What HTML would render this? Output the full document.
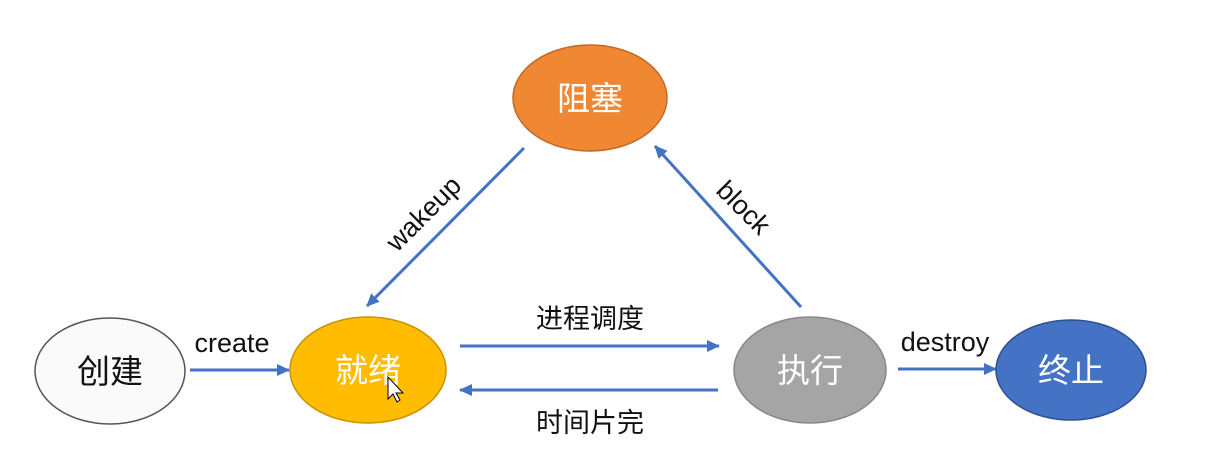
<!DOCTYPE html>
<html><head><meta charset="utf-8"><style>
html,body{margin:0;padding:0;background:#fff;}
svg{display:block;}
text{font-family:"Liberation Sans","Noto Sans CJK SC",sans-serif;}
</style></head><body>
<svg width="1225" height="476" viewBox="0 0 1225 476" xmlns="http://www.w3.org/2000/svg">
<defs>
<marker id="a" markerWidth="14" markerHeight="12" refX="12" refY="6" orient="auto" markerUnits="userSpaceOnUse" viewBox="0 0 14 12">
<path d="M0,0 L13,6 L0,12 z" fill="#4472C4"/></marker>
</defs>
<g stroke="#4472C4" stroke-width="3" fill="none" marker-end="url(#a)">
<line x1="190" y1="370" x2="289" y2="370"/>
<line x1="460" y1="346" x2="719" y2="346"/>
<line x1="718" y1="390" x2="460" y2="390"/>
<line x1="898" y1="369" x2="996" y2="369"/>
<line x1="524" y1="148" x2="367" y2="306"/>
<line x1="801" y1="307" x2="655" y2="146"/>
</g>
<ellipse cx="590" cy="98" rx="77" ry="53" fill="#F08733" stroke="#C0692A" stroke-width="1.5"/>
<ellipse cx="110" cy="371" rx="75" ry="53" fill="#fafafa" stroke="#555" stroke-width="1.5"/>
<ellipse cx="368" cy="370" rx="78" ry="53" fill="#FFBC00" stroke="#C79300" stroke-width="1.5"/>
<ellipse cx="810" cy="370" rx="76" ry="53" fill="#A5A5A5" stroke="#888" stroke-width="1.5"/>
<ellipse cx="1071" cy="370" rx="75" ry="50" fill="#4472C4" stroke="#2F528F" stroke-width="1.5"/>
<g font-size="33" text-anchor="middle">
<text x="590" y="110" fill="#fff">阻塞</text>
<text x="110" y="383" fill="#111">创建</text>
<text x="368" y="382" fill="#fff">就绪</text>
<text x="810" y="382" fill="#fff">执行</text>
<text x="1071" y="382" fill="#fff">终止</text>
</g>
<g font-size="27" fill="#111" text-anchor="middle">
<text x="232" y="352">create</text>
<text x="590" y="328">进程调度</text>
<text x="590" y="432">时间片完</text>
<text x="945" y="351">destroy</text>
<text x="0" y="0" transform="translate(430,220) rotate(-45)">wakeup</text>
<text x="0" y="0" transform="translate(737,214) rotate(45)">block</text>
</g>
<path d="M388,377 L388,399 L393,394 L397,402 L400,400 L396,393 L403,393 z" fill="#fff" stroke="#000" stroke-width="1"/>
</svg>
</body></html>
